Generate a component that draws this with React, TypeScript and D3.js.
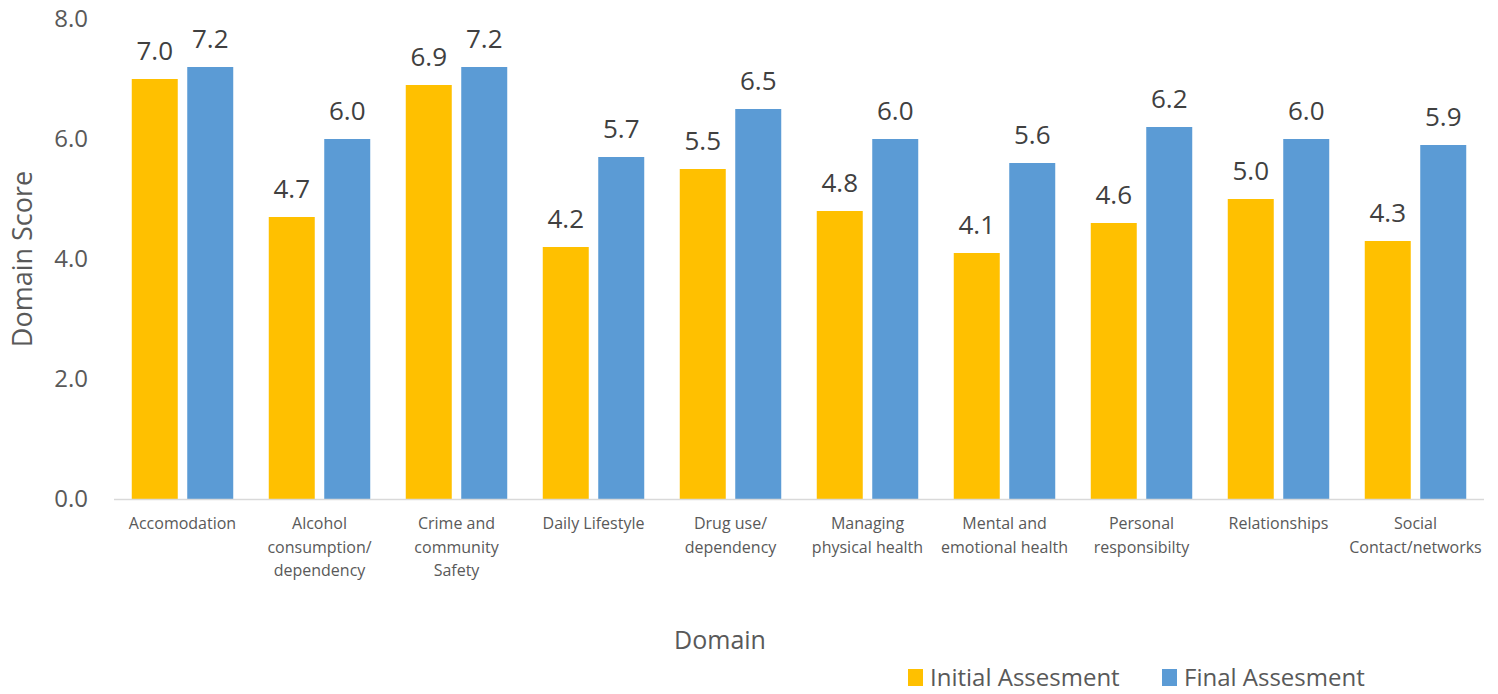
import { useEffect, useRef } from 'react'
import * as d3 from 'd3'

const categories = [
  ['Accomodation'],
  ['Alcohol', 'consumption/', 'dependency'],
  ['Crime and', 'community', 'Safety'],
  ['Daily Lifestyle'],
  ['Drug use/', 'dependency'],
  ['Managing', 'physical health'],
  ['Mental and', 'emotional health'],
  ['Personal', 'responsibilty'],
  ['Relationships'],
  ['Social', 'Contact/networks'],
]
const seriesNames = ['Initial Assesment', 'Final Assesment']
const seriesColors = ['#FFC000', '#5B9BD5']
const initialScores = [7.0, 4.7, 6.9, 4.2, 5.5, 4.8, 4.1, 4.6, 5.0, 4.3]
const finalScores = [7.2, 6.0, 7.2, 5.7, 6.5, 6.0, 5.6, 6.2, 6.0, 5.9]
const yTicks = [0, 2, 4, 6, 8]

const WIDTH = 1498
const HEIGHT = 694
const FONT = '"Open Sans", "Noto Sans", sans-serif'

export default function App() {
  const svgRef = useRef<SVGSVGElement>(null)

  useEffect(() => {
    const el = svgRef.current
    if (!el) return
    const svg = d3.select(el)
    svg.selectAll('*').remove()

    const margin = { top: 19, right: 14, bottom: 195, left: 114 }
    const h = HEIGHT - margin.top - margin.bottom

    const keys = categories.map((_, i) => String(i))
    const x = d3.scaleBand().domain(keys).range([margin.left, WIDTH - margin.right]).padding(0)
    const xInner = d3.scaleBand().domain(seriesNames).range([0, x.bandwidth()])
      .paddingInner(0.171).paddingOuter(0.32)
    const y = d3.scaleLinear().domain([0, 8]).range([margin.top + h, margin.top])

    const series = [initialScores, finalScores]

    // bars + value labels
    series.forEach((vals, si) => {
      const g = svg.append('g')
      g.selectAll('rect').data(vals).join('rect')
        .attr('x', (_, i) => x(keys[i])! + xInner(seriesNames[si])!)
        .attr('y', d => y(d))
        .attr('width', xInner.bandwidth())
        .attr('height', d => y(0) - y(d))
        .attr('fill', seriesColors[si])

      g.selectAll('text').data(vals).join('text')
        .attr('x', (_, i) => x(keys[i])! + xInner(seriesNames[si])! + xInner.bandwidth() / 2)
        .attr('y', d => y(d) - 19)
        .attr('text-anchor', 'middle')
        .attr('font-family', FONT)
        .attr('font-size', '26px')
        .attr('fill', '#404040')
        .text(d => d.toFixed(1))
    })

    // x axis line
    svg.append('line')
      .attr('x1', margin.left).attr('x2', WIDTH - margin.right)
      .attr('y1', y(0) + 0.5).attr('y2', y(0) + 0.5)
      .attr('stroke', '#d9d9d9').attr('stroke-width', 1.5)

    // y ticks
    svg.append('g').selectAll('text').data(yTicks).join('text')
      .attr('x', 88)
      .attr('y', d => y(d))
      .attr('dy', '0.35em')
      .attr('text-anchor', 'end')
      .attr('font-family', FONT)
      .attr('font-size', '24px')
      .attr('fill', '#595959')
      .text(d => d.toFixed(1))

    // category labels
    const cat = svg.append('g').selectAll('text').data(categories).join('text')
      .attr('text-anchor', 'middle')
      .attr('font-family', FONT)
      .attr('font-size', '16px')
      .attr('fill', '#595959')
      .attr('transform', (_, i) => `translate(${x(keys[i])! + x.bandwidth() / 2},529)`)
    cat.selectAll('tspan').data(d => d).join('tspan')
      .attr('x', 0)
      .attr('y', (_, j) => j * 23.5)
      .text(d => d)

    // axis titles
    svg.append('text')
      .attr('x', 720).attr('y', 649)
      .attr('text-anchor', 'middle')
      .attr('font-family', FONT).attr('font-size', '25px').attr('fill', '#595959')
      .text('Domain')

    svg.append('text')
      .attr('transform', `translate(32,${margin.top + h / 2}) rotate(-90)`)
      .attr('text-anchor', 'middle')
      .attr('font-family', FONT).attr('font-size', '27px').attr('fill', '#595959')
      .text('Domain Score')

    // legend
    const legendX = [908, 1162]
    const lg = svg.append('g').selectAll('g').data(seriesNames).join('g')
      .attr('transform', (_, i) => `translate(${legendX[i]},669)`)
    lg.append('rect').attr('width', 15).attr('height', 17)
      .attr('fill', (_, i) => seriesColors[i])
    lg.append('text')
      .attr('x', 22).attr('y', 17)
      .attr('font-family', FONT).attr('font-size', '24px').attr('fill', '#595959')
      .text(d => d)
  }, [])

  return (
    <svg
      ref={svgRef}
      width={WIDTH}
      height={HEIGHT}
      style={{ position: 'absolute', left: 0, top: 0, display: 'block', background: '#fff' }}
    />
  )
}
